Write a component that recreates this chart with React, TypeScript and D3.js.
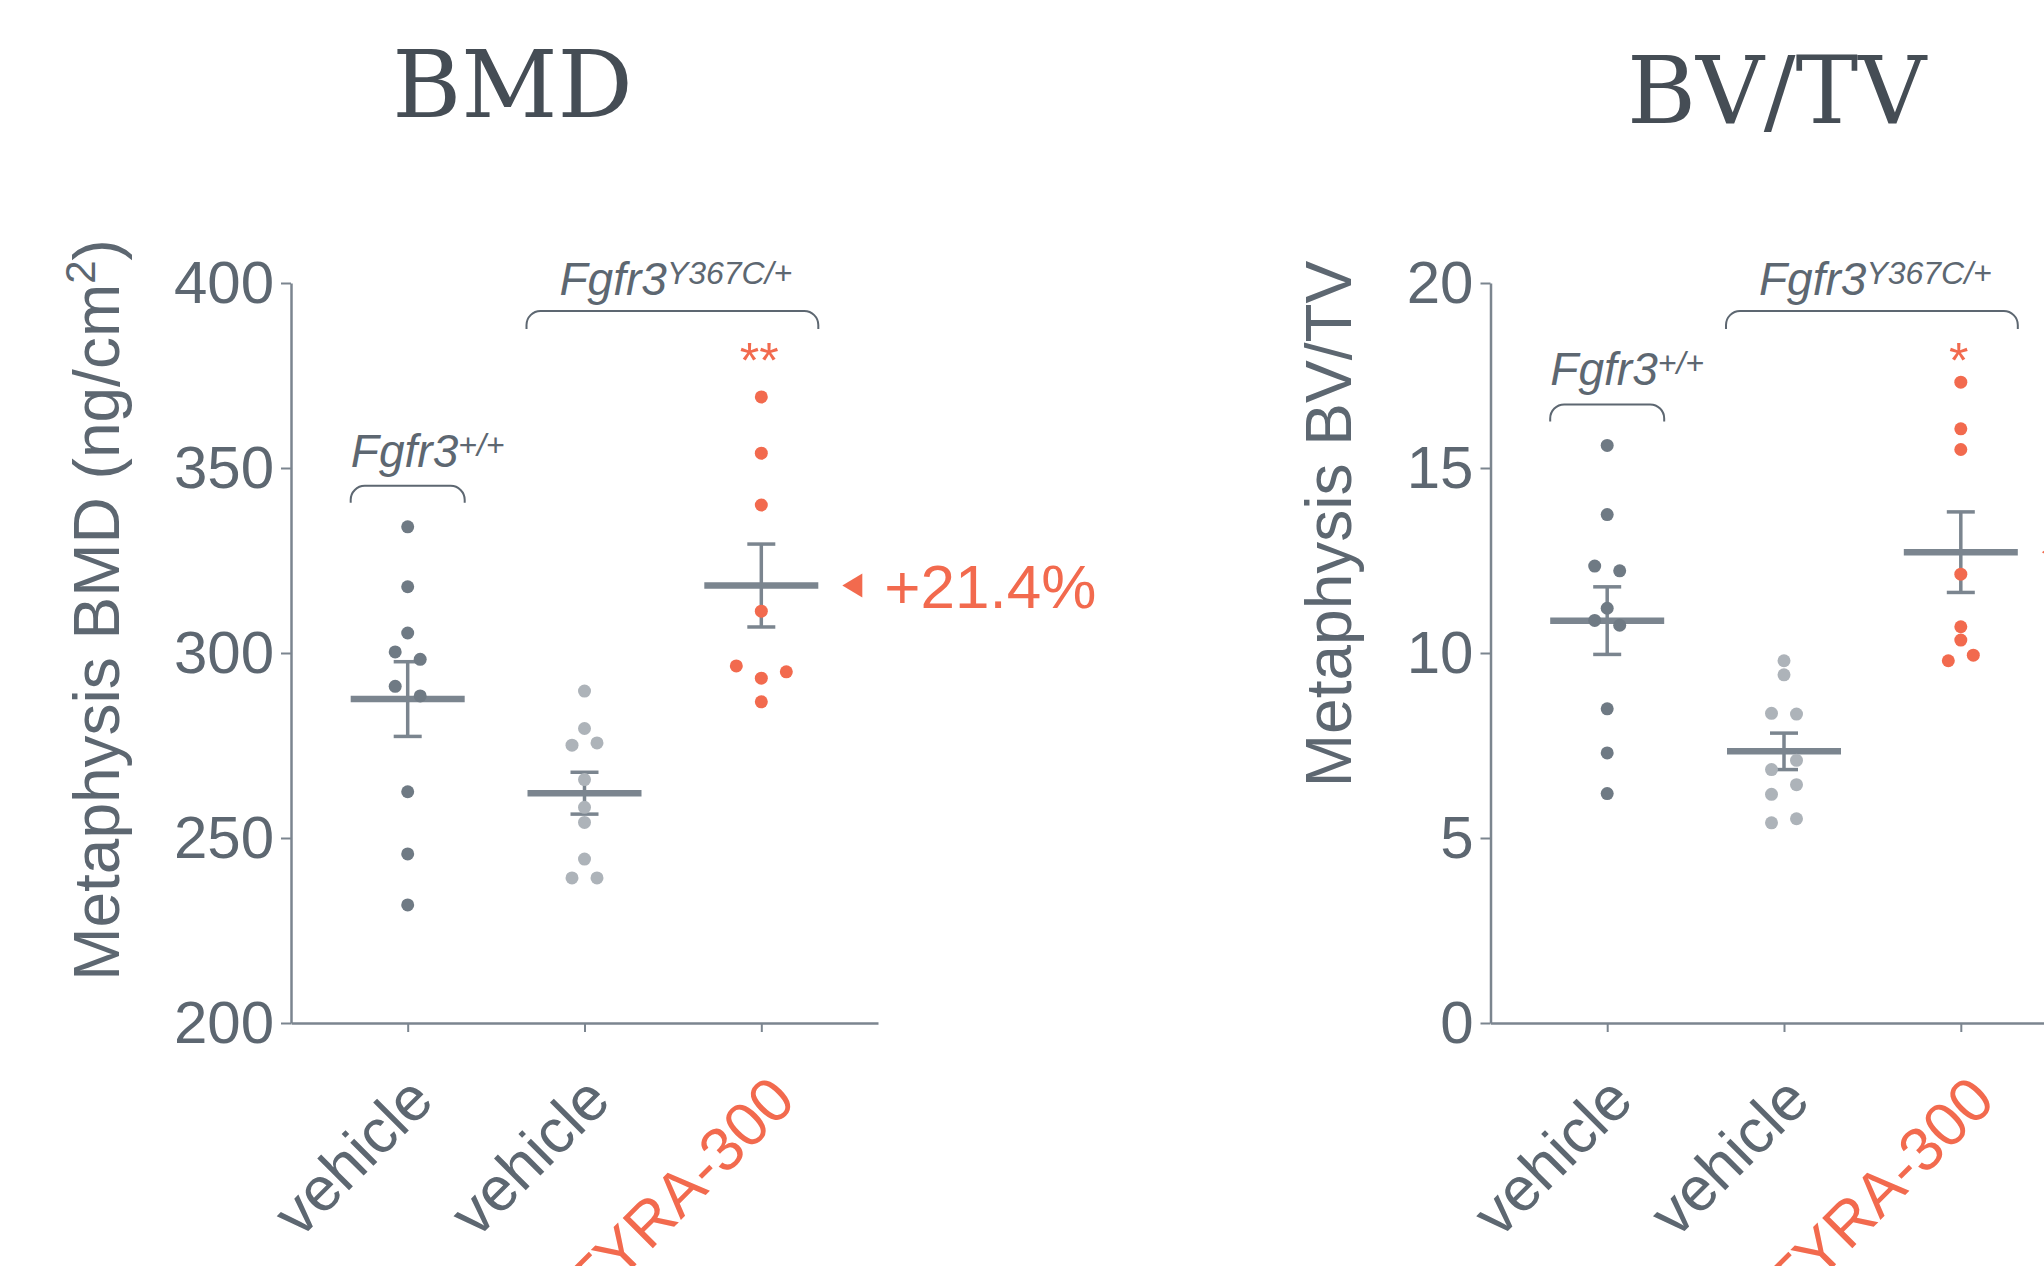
import { useEffect, useRef } from "react";
import * as d3 from "d3";

// groups on the x axis
const groupKeys = ["wt-vehicle", "mut-vehicle", "mut-tyra"];
const groupLabels = ["vehicle", "vehicle", "TYRA-300"];

// BMD (ng/cm2), one value per animal
const bmdWildtype = [334.1, 317.9, 305.4, 300.3, 298.3, 291.0, 288.4, 262.5, 245.7, 231.9];
const bmdMutantVehicle = [289.7, 279.6, 275.1, 275.7, 265.8, 258.3, 254.2, 244.3, 239.2, 239.2];
const bmdMutantTyra = [369.2, 354.0, 340.0, 311.3, 296.5, 294.9, 293.2, 286.8];
const bmdTicks = [200, 250, 300, 350, 400];

// BV/TV (%)
const bvtvWildtype = [15.61, 13.74, 12.35, 12.22, 11.21, 10.88, 10.75, 8.49, 7.3, 6.2];
const bvtvMutantVehicle = [9.79, 9.41, 8.37, 8.35, 6.85, 7.1, 6.18, 6.44, 5.41, 5.52];
const bvtvMutantTyra = [17.32, 16.06, 15.5, 12.13, 10.71, 10.35, 9.79, 9.94];
const bvtvTicks = [0, 5, 10, 15, 20];

const W = 2044;
const H = 1266;
const PLOT_TOP = 283;
const PLOT_BOTTOM = 1023;
const AXIS_LEN = 587;

const FONT = "'Liberation Sans', Arial, Helvetica, sans-serif";
const TEXT = "#5d6771";
const AXIS = "#7b858f";
const TITLE = "#454d55";
const RED = "#f26a4e";
const dotColors = ["#6f7a84", "#adb3b9", RED];

// simple swarm: points closer than `gap` px get spread side by side
function swarmOffsets(ys, spacing = 25, gap = 12) {
  const order = d3.range(ys.length).sort((a, b) => ys[a] - ys[b] || a - b);
  const clusters = [];
  let prev = -Infinity;
  for (const i of order) {
    if (clusters.length && ys[i] - prev < gap) clusters[clusters.length - 1].push(i);
    else clusters.push([i]);
    prev = ys[i];
  }
  const off = new Array(ys.length).fill(0);
  for (const c of clusters) {
    const n = c.length;
    const slots = d3
      .range(n)
      .map((k) => (k - (n - 1) / 2) * spacing)
      .sort((a, b) => Math.abs(b) - Math.abs(a) || a - b);
    [...c].sort((a, b) => a - b).forEach((idx, k) => (off[idx] = slots[k]));
  }
  return off;
}

function bracketPath(x0, x1, top, bottom, r = 14) {
  return `M${x0},${bottom}V${top + r}A${r},${r} 0 0 1 ${x0 + r},${top}H${x1 - r}A${r},${r} 0 0 1 ${x1},${top + r}V${bottom}`;
}

const Panel = ({ x0, title, titleX, titleY, yLabel, yLabelSup, yLabelTail, yLabelX, yLabelY, domain, ticks, series, stars, showPct }) => {
  const yAxisRef = useRef(null);
  const xAxisRef = useRef(null);

  const y = d3.scaleLinear().domain(domain).range([PLOT_BOTTOM, PLOT_TOP]);
  const x = d3.scalePoint().domain(groupKeys).range([x0, x0 + AXIS_LEN]).padding(0.66);

  useEffect(() => {
    const yAxis = d3.axisLeft(y).tickValues(ticks).tickSize(10).tickSizeOuter(0).tickPadding(7);
    const gy = d3.select(yAxisRef.current).call(yAxis);
    gy.select(".domain").attr("stroke", AXIS).attr("stroke-width", 2.5);
    gy.selectAll(".tick line").attr("stroke", AXIS).attr("stroke-width", 2);
    gy.selectAll(".tick text")
      .attr("font-size", 60)
      .attr("font-family", FONT)
      .attr("fill", TEXT);

    const xAxis = d3
      .axisBottom(x)
      .tickSize(9)
      .tickSizeOuter(0)
      .tickFormat((d) => groupLabels[groupKeys.indexOf(d)]);
    const gx = d3.select(xAxisRef.current).call(xAxis);
    gx.select(".domain").attr("stroke", AXIS).attr("stroke-width", 2.5);
    gx.selectAll(".tick line").attr("stroke", AXIS).attr("stroke-width", 2);
    gx.selectAll(".tick text")
      .attr("y", 0)
      .attr("dy", 0)
      .attr("text-anchor", "end")
      .attr("transform", (d, i) => (i === 2 ? "translate(36,80) rotate(-45)" : "translate(28,80) rotate(-45)"))
      .attr("font-size", 62)
      .attr("font-family", FONT)
      .attr("fill", (d, i) => (i === 2 ? RED : TEXT));
  }, []);

  const stats = series.map((vals) => ({
    mean: d3.mean(vals),
    se: d3.deviation(vals) / Math.sqrt(vals.length),
  }));

  const xs = groupKeys.map((k) => x(k));
  const wtTop = y(d3.max(series[0]));
  const wtBracketBottom = wtTop - 24;
  const wtBracketTop = wtBracketBottom - 17;
  const mutBracketTop = PLOT_TOP + 28;
  const mutBracketBottom = mutBracketTop + 18;

  const pct = (stats[2].mean / stats[1].mean - 1) * 100;
  const tipX = xs[2] + 57 + 24;
  const tipY = y(stats[2].mean);

  return (
    <g>
      <text x={titleX} y={titleY} textAnchor="middle" fontFamily="'DejaVu Serif', serif" fontSize={94} fill={TITLE}>
        {title}
      </text>

      <text
        transform={`translate(${yLabelX},${yLabelY}) rotate(-90)`}
        textAnchor="middle"
        fontFamily={FONT}
        fontSize={64}
        fill={TEXT}
      >
        {yLabel}
        {yLabelSup && (
          <tspan fontSize={42} dy={-24}>
            {yLabelSup}
          </tspan>
        )}
        {yLabelTail && (
          <tspan fontSize={64} dy={24}>
            {yLabelTail}
          </tspan>
        )}
      </text>

      <g ref={yAxisRef} transform={`translate(${x0},0)`} />
      <g ref={xAxisRef} transform={`translate(0,${PLOT_BOTTOM})`} />

      {/* genotype brackets */}
      <path d={bracketPath(xs[0] - 57, xs[0] + 57, wtBracketTop, wtBracketBottom)} fill="none" stroke={TEXT} strokeWidth={2} />
      <text x={xs[0] + 20} y={wtBracketTop - 19} textAnchor="middle" fontFamily={FONT} fontStyle="italic" fontSize={46} fill={TEXT}>
        Fgfr3
        <tspan fontSize={32} dy={-11}>
          +/+
        </tspan>
      </text>
      <path d={bracketPath(xs[1] - 58, xs[2] + 57, mutBracketTop, mutBracketBottom)} fill="none" stroke={TEXT} strokeWidth={2} />
      <text x={(xs[1] + xs[2]) / 2 + 3} y={mutBracketTop - 16} textAnchor="middle" fontFamily={FONT} fontStyle="italic" fontSize={46} fill={TEXT}>
        Fgfr3
        <tspan fontSize={32} dy={-11}>
          Y367C/+
        </tspan>
      </text>
      <text x={xs[2] - 2} y={378} textAnchor="middle" fontFamily={FONT} fontSize={50} fill={RED}>
        {stars}
      </text>

      {/* mean ± SEM */}
      {stats.map((s, i) => (
        <g key={i} stroke={AXIS}>
          <line x1={xs[i]} x2={xs[i]} y1={y(s.mean - s.se)} y2={y(s.mean + s.se)} strokeWidth={3.5} />
          <line x1={xs[i] - 14} x2={xs[i] + 14} y1={y(s.mean + s.se)} y2={y(s.mean + s.se)} strokeWidth={3.5} />
          <line x1={xs[i] - 14} x2={xs[i] + 14} y1={y(s.mean - s.se)} y2={y(s.mean - s.se)} strokeWidth={3.5} />
          <line x1={xs[i] - 57} x2={xs[i] + 57} y1={y(s.mean)} y2={y(s.mean)} strokeWidth={6.5} />
        </g>
      ))}

      {/* individual animals */}
      {series.map((vals, i) => {
        const ys = vals.map((v) => y(v));
        const off = swarmOffsets(ys);
        return vals.map((v, j) => (
          <circle key={`${i}-${j}`} cx={xs[i] + off[j]} cy={ys[j]} r={6.5} fill={dotColors[i]} />
        ));
      })}

      {/* change vs mutant vehicle */}
      <path d={`M${tipX},${tipY}L${tipX + 20},${tipY - 12}L${tipX + 20},${tipY + 12}Z`} fill={RED} />
      {showPct && (
        <text x={tipX + 42} y={tipY} dy="0.36em" fontFamily={FONT} fontSize={62} fill={RED}>
          {d3.format("+.1f")(pct)}%
        </text>
      )}
    </g>
  );
};

export default function App() {
  return (
    <svg
      width={W}
      height={H}
      viewBox={`0 0 ${W} ${H}`}
      style={{ position: "absolute", left: 0, top: 0, display: "block", background: "#fff" }}
    >
      <rect width={W} height={H} fill="#fff" />
      <Panel
        x0={291}
        title="BMD"
        titleX={512.5}
        titleY={117}
        yLabel="Metaphysis BMD (ng/cm"
        yLabelSup="2"
        yLabelTail=")"
        yLabelX={119}
        yLabelY={610}
        domain={[200, 400]}
        ticks={bmdTicks}
        series={[bmdWildtype, bmdMutantVehicle, bmdMutantTyra]}
        stars="**"
        showPct={true}
      />
      <Panel
        x0={1490.5}
        title="BV/TV"
        titleX={1776.5}
        titleY={123}
        yLabel="Metaphysis BV/TV"
        yLabelX={1351}
        yLabelY={524}
        domain={[0, 20]}
        ticks={bvtvTicks}
        series={[bvtvWildtype, bvtvMutantVehicle, bvtvMutantTyra]}
        stars="*"
        showPct={false}
      />
    </svg>
  );
}
